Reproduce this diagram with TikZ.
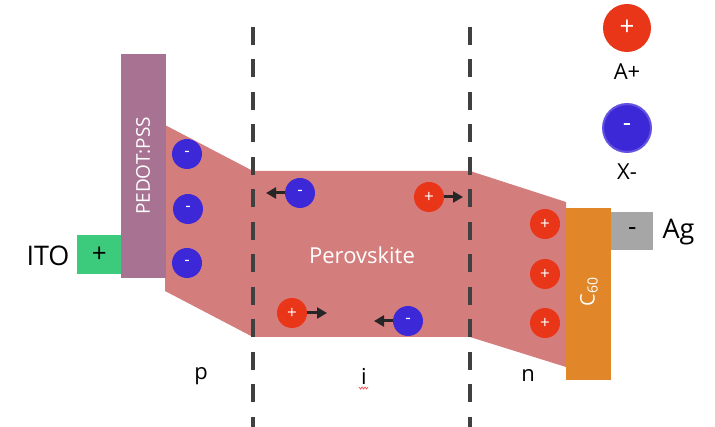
\documentclass[tikz,border=0pt]{standalone}
\usepackage{fontspec}
\setmainfont{Open Sans}
\usetikzlibrary{arrows.meta}
\definecolor{pink}{HTML}{D37D7D}
\definecolor{pedot}{HTML}{A87292}
\definecolor{ito}{HTML}{3CCB7C}
\definecolor{csixty}{HTML}{E2862A}
\definecolor{aggray}{HTML}{A6A6A6}
\definecolor{cred}{HTML}{E93518}
\definecolor{cblue}{HTML}{3D28D8}
\definecolor{dashc}{HTML}{404040}
\tikzset{
  ion/.style={circle, minimum size=30pt, inner sep=0pt, text=white, font=\fontsize{17}{17}\selectfont},
  cation/.style={ion, fill=cred},
  anion/.style={ion, fill=cblue},
  move/.style={line width=3pt, -{Triangle[length=10pt,width=11pt]}, draw=black!85},
  sep/.style={dashc, line width=4.5pt, dash pattern=on 18pt off 14.5pt},
  lbl/.style={font=\fontsize{22}{22}\selectfont, text=black}
}
\begin{document}
\begin{tikzpicture}[x=1pt,y=-1pt]
\useasboundingbox (0,0) rectangle (715,427);
% perovskite body
\fill[pink] (165,125) -- (253,171) -- (470,171) -- (566,202) -- (566,367) -- (470,337) -- (253,337) -- (165,291) -- cycle;
% separators
\draw[sep] (253,27) -- (253,427);
\draw[sep] (470,27) -- (470,427);
% layers
\node[fill=ito, minimum width=44pt, minimum height=39pt, inner sep=0pt, anchor=north west, font=\fontsize{26}{26}\selectfont] (ito) at (77,235) {+};
\node[fill=pedot, minimum width=45pt, minimum height=224pt, inner sep=0pt, anchor=north west] (pedot) at (121,54) {};
\node[rotate=90, text=white, font=\fontsize{19}{19}\selectfont] (pedottxt) at (143,166) {PEDOT:PSS};
\node[fill=csixty, minimum width=45pt, minimum height=172pt, inner sep=0pt, anchor=north west] (c60) at (566,208) {};
\node[rotate=90, text=white, font=\fontsize{20}{20}\selectfont] (c60txt) at (589,292) {C\textsubscript{60}};
\node[fill=aggray, minimum width=42pt, minimum height=38pt, inner sep=0pt, anchor=north west, font=\fontsize{26}{26}\selectfont] (ag) at (611,212) {-};
\node[anchor=east, font=\fontsize{27}{27}\selectfont] (itotxt) at (73,256) {ITO};
\node[anchor=west, font=\fontsize{27}{27}\selectfont] (agtxt) at (659,232) {Ag};
\node[text=white, font=\fontsize{22}{22}\selectfont] (perov) at (362,255) {Perovskite};
% left anions
\node[anion] (a1) at (187,154) {-};
\node[anion] (a2) at (188,209) {-};
\node[anion] (a3) at (187,263) {-};
% right cations
\node[cation] (k1) at (545,224) {+};
\node[cation] (k2) at (545,274) {+};
\node[cation] (k3) at (545,323) {+};
% mobile ions
\node[anion] (m1) at (300,193) {-};
\node[cation] (m2) at (429,197) {+};
\node[cation] (m3) at (292,313) {+};
\node[anion] (m4) at (408,321) {-};
\coordinate (t1) at (266,193);
\coordinate (t2) at (463,197);
\coordinate (t3) at (327,313);
\coordinate (t4) at (374,321);
\draw[move] (m1.west) -- (t1);
\draw[move] (m2.east) -- (t2);
\draw[move] (m3.east) -- (t3);
\draw[move] (m4.west) -- (t4);
% legend
\node[cation, minimum size=48pt, font=\fontsize{26}{26}\selectfont] (la) at (627,28) {+};
\node[lbl] (latxt) at (627,72) {A+};
\node[anion, minimum size=48pt, draw=cblue!80!white, line width=2pt, font=\fontsize{26}{26}\selectfont] (lx) at (627,128) {-};
\node[lbl] (lxtxt) at (627,172) {X-};
% region labels
\node[lbl] (p) at (201,376) {p};
\node[lbl] (i) at (364,376) {i};
\node[lbl] (n) at (528,376) {n};
\draw[red!70, line width=0.7pt] (359,387) -- (360.5,389) -- (362,387) -- (363.5,389) -- (365,387) -- (366.5,389) -- (368,387);
\end{tikzpicture}
\end{document}
